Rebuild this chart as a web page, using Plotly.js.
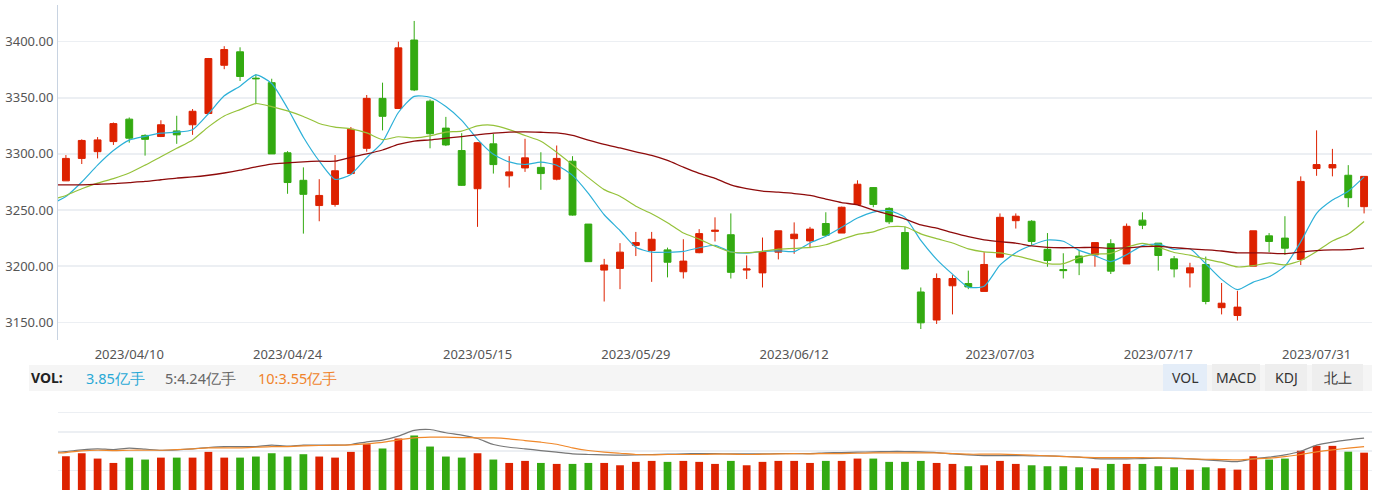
<!DOCTYPE html>
<html>
<head>
<meta charset="utf-8">
<script src="https://cdn.plot.ly/plotly-3.0.1.min.js"></script>
<style>
html,body{margin:0;padding:0;background:#fff;}
#chart{width:1375px;height:490px;}
</style>
</head>
<body>
<div id="chart"></div>
<script>
// ---- data ----
const prevDate = '2023/03/31';
const dates = [
 '2023/04/03','2023/04/04','2023/04/06','2023/04/07','2023/04/10','2023/04/11','2023/04/12','2023/04/13','2023/04/14','2023/04/17',
 '2023/04/18','2023/04/19','2023/04/20','2023/04/21','2023/04/24','2023/04/25','2023/04/26','2023/04/27','2023/04/28',
 '2023/05/04','2023/05/05','2023/05/08','2023/05/09','2023/05/10','2023/05/11','2023/05/12','2023/05/15','2023/05/16','2023/05/17',
 '2023/05/18','2023/05/19','2023/05/22','2023/05/23','2023/05/24','2023/05/25','2023/05/26','2023/05/29','2023/05/30','2023/05/31',
 '2023/06/01','2023/06/02','2023/06/05','2023/06/06','2023/06/07','2023/06/08','2023/06/09','2023/06/12','2023/06/13','2023/06/14',
 '2023/06/15','2023/06/16','2023/06/19','2023/06/20','2023/06/21','2023/06/26','2023/06/27','2023/06/28','2023/06/29','2023/06/30',
 '2023/07/03','2023/07/04','2023/07/05','2023/07/06','2023/07/07','2023/07/10','2023/07/11','2023/07/12','2023/07/13','2023/07/14',
 '2023/07/17','2023/07/18','2023/07/19','2023/07/20','2023/07/21','2023/07/24','2023/07/25','2023/07/26','2023/07/27','2023/07/28',
 '2023/07/31','2023/08/01','2023/08/02','2023/08/03'
];
const open = [3276,3296,3302,3311,3331,3316.5,3315.5,3320.5,3326,3336,
 3379,3391,3367.5,3363.5,3301,3276.5,3254,3255,3282.5,
 3305,3349.5,3340.5,3401.5,3347,3323,3303,3269,3309,3280.5,
 3287.5,3288,3277.5,3293.5,3237.5,3196.5,3198,3218.5,3214,3214.5,
 3195,3212,3231,3228,3196.5,3194,3212.5,3224.5,3222.5,3238,
 3229.5,3255,3270,3251.5,3230,3177,3152,3182.5,3184.5,3177.5,
 3208,3240.5,3240,3215,3197,3209,3210,3220,3202,3241,
 3220.5,3206.5,3194,3201.5,3163,3156,3200,3227,3225,3206,
 3287,3287.5,3281,3253];
const high = [3299,3313,3315,3328,3332.5,3317.5,3330,3334,3340,3385.5,
 3396,3395,3371,3367,3302.5,3288,3277.5,3299,3324,
 3352.5,3363.5,3400,3418.5,3348.5,3333,3318.5,3310.5,3318,3298,
 3313.5,3301.5,3307.5,3298,3237.5,3206.5,3220.5,3230.5,3230.5,3216.5,
 3224,3233,3243.5,3247,3209.5,3225.5,3231.5,3239,3235,3248,
 3253,3276.5,3270.5,3252.5,3235,3181,3193.5,3192,3196,3212.5,
 3247,3247,3241,3229.5,3211.5,3214.5,3221,3224,3238,3248,
 3220.5,3209,3203,3208.5,3185,3178,3231.5,3229.5,3244.5,3280,
 3321,3304.5,3290,3280];
const low = [3276,3291,3296,3308,3310,3298.5,3315,3309,3317,3336,
 3375.5,3365,3344.5,3300,3264.5,3229,3240,3253,3282,
 3302,3321,3340.5,3356,3305,3307,3271.5,3235,3282.5,3270,
 3284,3268,3276.5,3245,3204,3168.5,3179.5,3209,3186,3190,
 3189,3211.5,3222,3189,3188.5,3181,3206,3211,3216,3227,
 3229.5,3254.5,3252.5,3237.5,3197,3144,3148.5,3157,3179.5,3177.5,
 3208,3233.5,3219,3199.5,3189,3192,3199.5,3193,3202,3233,
 3196,3190,3181,3166,3157,3151.5,3200,3212.5,3210,3201,
 3280.5,3280,3252.5,3247];
const close = [3296,3312,3312.5,3327,3314,3313,3326,3317,3338,3385,
 3393,3369,3367,3300,3274.5,3264,3263,3285,3322,
 3349.5,3333.5,3394.5,3357,3318,3308,3272,3310,3290.5,3284,
 3296.5,3282.5,3296,3245.5,3204,3201,3212.5,3221,3224,3203.5,
 3204.5,3229,3232,3194.5,3197.5,3213,3231.5,3228.5,3233,3227.5,
 3252.5,3273,3255,3239.5,3197.5,3149.5,3189,3189,3181.5,3201.5,
 3243.5,3244.5,3222,3205,3196,3203,3221,3195.5,3235.5,3236.5,
 3209.5,3197.5,3198.5,3168.5,3167,3163.5,3231.5,3222,3216,3275.5,
 3290.5,3290.5,3261,3280];
// moving averages; first value belongs to the previous day (clipped at the axis)
const ma5 = [3255,3262,3275,3290,3303,3312.3,3315.7,3318.5,3319.4,3321.6,3335.8,
 3351.8,3360.4,3370.4,3362.8,3340.7,3314.9,3293.7,3277.3,3281.7,
 3296.7,3310.6,3336.9,3351.3,3350.5,3342.2,3329.9,3313.0,3299.7,3292.9,
 3290.6,3292.7,3289.9,3280.9,3264.9,3245.8,3231.8,3216.8,3212.5,3212.4,
 3213.1,3216.4,3218.6,3212.7,3211.5,3213.2,3213.7,3213.0,3220.7,3226.7,
 3234.6,3242.9,3248.2,3249.5,3243.5,3222.9,3206.1,3192.9,3181.3,3182.1,
 3200.9,3212.0,3218.6,3223.3,3222.2,3214.1,3209.4,3204.1,3210.2,3218.3,
 3219.6,3214.9,3215.5,3202.1,3188.2,3179.0,3185.8,3190.5,3200.0,3221.7,
 3247.1,3258.9,3266.7,3279.5];
const ma10 = [3259,3263,3269,3274,3278,3283,3290,3297.5,3305,3312.5,3324.1,
 3333.8,3339.5,3344.9,3342.2,3338.3,3333.4,3327.1,3323.9,3322.3,
 3318.7,3312.8,3315.3,3314.3,3316.1,3319.5,3320.3,3325.0,3325.5,3321.7,
 3316.4,3311.3,3301.5,3290.3,3278.9,3268.2,3262.3,3253.4,3246.7,3238.7,
 3229.5,3224.1,3217.7,3212.6,3212.0,3213.2,3215.1,3215.8,3216.7,3219.1,
 3223.9,3228.3,3230.6,3235.1,3235.1,3228.8,3224.5,3220.6,3215.4,3212.8,
 3211.9,3209.1,3205.8,3202.3,3202.2,3207.5,3210.7,3211.4,3216.8,3220.3,
 3216.9,3212.2,3209.8,3206.2,3203.3,3199.3,3200.4,3203.0,3201.1,3205.0,
 3213.1,3222.4,3228.6,3239.8];
const ma30 = [3272.5,3272.5,3272.5,3273,3273.5,3274.5,3275.5,3277,3278.5,3279.5,3281,
 3283,3285.5,3288.5,3291,3292,3293,3293.5,3293.5,3297,
 3300,3303.5,3308.5,3311.5,3312.5,3314,3315.5,3317,3318.5,3319.5,
 3319.7,3319.3,3318.7,3316.5,3312.4,3308.6,3305.3,3301.8,3298.7,3294.2,
 3288.2,3282.7,3278.2,3272.4,3269.0,3266.9,3265.9,3264.7,3263.0,3259.8,
 3256.6,3254.6,3249.9,3246.0,3242.0,3236.7,3233.9,3229.9,3226.3,3223.5,
 3221.8,3220.5,3218.0,3216.7,3216.4,3216.5,3216.8,3215.9,3216.3,3217.4,
 3217.6,3216.5,3215.4,3214.5,3213.5,3211.9,3211.9,3211.6,3211.1,3212.7,
 3213.9,3214.5,3214.7,3216.1];
// volume in 亿手
const volume = [3.48,3.79,3.24,2.79,3.34,3.14,3.34,3.34,3.34,3.93,
 3.34,3.34,3.45,3.79,3.45,3.69,3.45,3.34,3.93,
 4.72,4.28,5.31,5.62,4.48,3.45,3.34,3.79,3.14,2.79,
 3.0,2.79,2.69,2.69,2.79,2.79,2.55,2.90,3.0,2.90,
 3.0,2.90,2.69,3.0,2.55,2.90,3.0,3.0,2.79,3.0,
 3.0,3.24,3.24,2.90,2.90,3.0,2.79,2.69,2.45,2.55,
 3.0,2.69,2.55,2.45,2.45,2.34,2.24,2.69,2.69,2.69,
 2.45,2.34,2.10,2.34,2.24,2.10,3.48,3.14,3.24,4.05,
 4.55,4.55,3.95,3.85];
const volMa5 = [3.85,3.97,4.14,4.24,4.17,4.31,4.21,4.10,4.14,4.24,4.38,
 4.48,4.48,4.48,4.62,4.52,4.62,4.62,4.62,4.69,
 4.97,5.14,5.55,6.14,6.24,5.90,5.66,5.31,4.69,4.41,
 4.24,4.07,3.90,3.72,3.66,3.62,3.59,3.62,3.66,3.69,
 3.72,3.76,3.76,3.72,3.72,3.72,3.76,3.76,3.76,3.83,
 3.86,3.90,3.93,3.97,3.97,3.93,3.86,3.72,3.62,3.55,
 3.55,3.55,3.52,3.52,3.48,3.38,3.24,3.21,3.21,3.24,
 3.28,3.28,3.21,3.10,3.00,2.93,3.21,3.38,3.62,4.00,
 4.62,4.93,5.17,5.34];
const volMa10 = [3.80,3.86,4.03,4.10,4.07,4.10,4.10,4.10,4.17,4.24,4.34,
 4.34,4.34,4.41,4.48,4.48,4.55,4.59,4.62,4.66,
 4.76,4.90,5.17,5.38,5.45,5.45,5.41,5.38,5.38,5.28,
 5.10,4.93,4.72,4.34,4.07,3.90,3.79,3.66,3.62,3.66,
 3.66,3.66,3.69,3.69,3.66,3.69,3.72,3.76,3.72,3.76,
 3.76,3.79,3.83,3.83,3.83,3.83,3.83,3.76,3.69,3.69,
 3.69,3.66,3.59,3.52,3.45,3.38,3.34,3.34,3.34,3.34,
 3.31,3.24,3.21,3.17,3.14,3.10,3.21,3.28,3.45,3.66,
 3.93,4.14,4.31,4.48];
const tickDates = ['2023/04/10','2023/04/24','2023/05/15','2023/05/29','2023/06/12','2023/07/03','2023/07/17','2023/07/31'];
const priceTicks = [3150,3200,3250,3300,3350,3400];
const volLabel = {vol:'3.85亿手', ma5:'5:4.24亿手', ma10:'10:3.55亿手'};
const tabs = ['VOL','MACD','KDJ','北上'];

// ---- style ----
const RED = '#dd2200', GREEN = '#33aa11';
const FONT = 'Noto Sans, DejaVu Sans, sans-serif';
const W = 1375, H = 490, ML = 58, MR = 3, MT = 5, MB = 0;
const PW = W - ML - MR, PH = H - MT - MB;
const px = p => (p - ML) / PW;
const py = p => (H - MB - p) / PH;

const allDates = [prevDate].concat(dates);
const volColors = close.map((c, i) => c >= open[i] ? RED : GREEN);
const lineStyle = c => ({color:c, width:1.2, shape:'spline', smoothing:0.6});

const traces = [
  {type:'candlestick', x:dates, open:open, high:high, low:low, close:close,
   xaxis:'x', yaxis:'y', whiskerwidth:0,
   increasing:{line:{color:RED, width:1}, fillcolor:RED},
   decreasing:{line:{color:GREEN, width:1}, fillcolor:GREEN},
   hoverinfo:'skip', showlegend:false},
  {type:'scatter', mode:'lines', x:allDates, y:ma5, xaxis:'x', yaxis:'y',
   line:lineStyle('#2cb0d8'), hoverinfo:'skip', showlegend:false},
  {type:'scatter', mode:'lines', x:allDates, y:ma10, xaxis:'x', yaxis:'y',
   line:lineStyle('#95c23a'), hoverinfo:'skip', showlegend:false},
  {type:'scatter', mode:'lines', x:allDates, y:ma30, xaxis:'x', yaxis:'y',
   line:{color:'#8e0b0b', width:1.3, shape:'spline', smoothing:0.6}, hoverinfo:'skip', showlegend:false},
  {type:'bar', x:dates, y:volume, xaxis:'x2', yaxis:'y2', width:0.49,
   marker:{color:volColors, line:{width:0}}, hoverinfo:'skip', showlegend:false},
  {type:'scatter', mode:'lines', x:allDates, y:volMa5, xaxis:'x2', yaxis:'y2',
   line:lineStyle('#777777'), hoverinfo:'skip', showlegend:false},
  {type:'scatter', mode:'lines', x:allDates, y:volMa10, xaxis:'x2', yaxis:'y2',
   line:lineStyle('#f0882a'), hoverinfo:'skip', showlegend:false}
];

const mainBottom = py(340);
const volTop = py(403);

const shapes = [
  {type:'rect', xref:'paper', yref:'paper', x0:px(29), x1:px(1372), y0:py(391), y1:py(365),
   fillcolor:'#f5f5f5', line:{width:0}, layer:'below'}
];
const tabBoxes = [[1163,1207,'#e4edf8'],[1212,1260,'#eeeeee'],[1265,1307,'#eeeeee'],[1312,1363,'#eeeeee']];
const annotations = [
  {xref:'paper', yref:'paper', x:px(29), y:py(378), xanchor:'left', yanchor:'middle', showarrow:false,
   text:'<b>VOL:</b>', font:{family:FONT, size:14, color:'#222'}},
  {xref:'paper', yref:'paper', x:px(84), y:py(378), xanchor:'left', yanchor:'middle', showarrow:false,
   text:volLabel.vol, font:{family:FONT, size:14.5, color:'#29a9d6'}},
  {xref:'paper', yref:'paper', x:px(163), y:py(378), xanchor:'left', yanchor:'middle', showarrow:false,
   text:volLabel.ma5, font:{family:FONT, size:14.5, color:'#666666'}},
  {xref:'paper', yref:'paper', x:px(256), y:py(378), xanchor:'left', yanchor:'middle', showarrow:false,
   text:volLabel.ma10, font:{family:FONT, size:14.5, color:'#f0832a'}}
];
tabBoxes.forEach((b, i) => {
  shapes.push({type:'rect', xref:'paper', yref:'paper', x0:px(b[0]), x1:px(b[1]), y0:py(391), y1:py(364),
    fillcolor:b[2], line:{width:0}, layer:'below'});
  annotations.push({xref:'paper', yref:'paper', x:px((b[0]+b[1])/2), y:py(378), xanchor:'center', yanchor:'middle',
    showarrow:false, text:tabs[i], font:{family:FONT, size:14, color:'#333'}});
});

const xCommon = {type:'category', categoryorder:'array', categoryarray:allDates,
  domain:[0,1], range:[0.5, 83.5], ticks:'', showgrid:false, zeroline:false, showline:false, fixedrange:true};

const layout = {
  width:W, height:H, margin:{l:ML, r:MR, t:MT, b:MB},
  paper_bgcolor:'#ffffff', plot_bgcolor:'#ffffff',
  font:{family:FONT, color:'#555'},
  showlegend:false, hovermode:false, dragmode:false, boxgap:0.38,
  xaxis:Object.assign({}, xCommon, {anchor:'y',
    tickmode:'array', tickvals:tickDates, ticktext:tickDates, ticklabelstandoff:5,
    tickfont:{family:FONT, size:13, color:'#555'}, rangeslider:{visible:false}}),
  yaxis:{domain:[mainBottom, 1], anchor:'x', range:[3134.2, 3432.7],
    tickmode:'array', tickvals:priceTicks, tickformat:'.2f',
    tickfont:{family:FONT, size:13, color:'#555'}, ticks:'', ticklabelstandoff:1,
    showgrid:true, gridcolor:'#eceff3', gridwidth:1.5, zeroline:false,
    showline:true, linecolor:'#c8d3e1', linewidth:1, fixedrange:true},
  xaxis2:Object.assign({}, xCommon, {anchor:'y2', matches:'x', showticklabels:false}),
  yaxis2:{domain:[0, volTop], anchor:'x2', range:[0, 8.97], dtick:2, tick0:0,
    showticklabels:false, ticks:'', showgrid:true, gridcolor:'#eceff3', gridwidth:1.5,
    zeroline:false, showline:false, fixedrange:true},
  shapes:shapes, annotations:annotations
};

Plotly.newPlot('chart', traces, layout, {staticPlot:true, displayModeBar:false});
</script>
</body>
</html>
